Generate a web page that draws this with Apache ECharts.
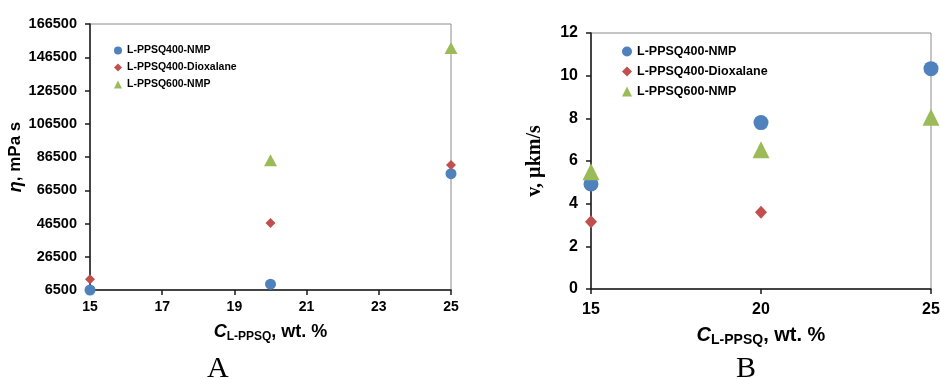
<!DOCTYPE html>
<html>
<head>
<meta charset="utf-8">
<script src="https://cdn.jsdelivr.net/npm/echarts@6/dist/echarts.min.js"></script>
<style>
html, body { margin: 0; padding: 0; background: #fff; }
#chart { width: 940px; height: 379px; }
</style>
</head>
<body>
<div id="chart"></div>
<script>
// Sample names and polymer concentrations (wt. %)
const seriesNames = ['L-PPSQ400-NMP', 'L-PPSQ400-Dioxalane', 'L-PPSQ600-NMP'];
const concentrations = [15, 20, 25];

// Panel A: dynamic viscosity, mPa s (null = not measured)
const viscNmp400 = [6500, 10000, 76500];
const viscDiox400 = [13000, 46800, 81700];
const viscNmp600 = [null, 84500, 152000];

// Panel B: v, µkm/s
const speedNmp400 = [4.92, 7.8, 10.33];
const speedDiox400 = [3.15, 3.6, null];
const speedNmp600 = [5.5, 6.53, 8.05];

// Tick values
const viscTicks = [6500, 26500, 46500, 66500, 86500, 106500, 126500, 146500, 166500];
const concTicksA = [15, 17, 19, 21, 23, 25];

const colors = ['#4F81BD', '#C0504D', '#9BBB59'];
const sans = 'Liberation Sans, Arial, sans-serif';
const serif = 'Liberation Serif, Times New Roman, serif';

function pairs(values) {
  const out = [];
  concentrations.forEach((c, i) => { if (values[i] != null) out.push([c, values[i]]); });
  return out;
}

const plain = v => String(v);
const axisLineStyle = { color: '#1a1a1a', width: 1.5 };

function scatter(idx, panel, symbol, size, values) {
  return {
    name: seriesNames[idx], type: 'scatter', xAxisIndex: panel, yAxisIndex: panel,
    symbol: symbol, symbolSize: size, clip: false, data: pairs(values),
    itemStyle: { color: colors[idx], opacity: 1 },
    emphasis: { disabled: true }
  };
}

const chart = echarts.init(document.getElementById('chart'), null, { renderer: 'canvas' });

chart.setOption({
  animation: false,
  backgroundColor: '#fff',
  color: colors,
  grid: [
    { left: 90, right: 489, top: 24, bottom: 89, show: true, borderColor: '#8c8c8c', borderWidth: 1, containLabel: false, outerBoundsMode: 'none' },
    { left: 591, right: 9, top: 33, bottom: 90, show: true, borderColor: '#8c8c8c', borderWidth: 1, containLabel: false, outerBoundsMode: 'none' }
  ],
  xAxis: [
    {
      gridIndex: 0, type: 'value', min: 15, max: 25,
      axisLine: { show: true, lineStyle: axisLineStyle },
      axisTick: { show: true, length: 5, lineStyle: axisLineStyle, customValues: concTicksA },
      axisLabel: { customValues: concTicksA, formatter: plain, margin: 10, color: '#000', fontFamily: sans, fontWeight: 'bold', fontSize: 14 },
      splitLine: { show: false },
      name: '{i|C}{sub|L-PPSQ}{n|, wt. %}',
      nameLocation: 'middle', nameGap: 32,
      nameTextStyle: {
        rich: {
          i: { fontFamily: sans, fontWeight: 'bold', fontStyle: 'italic', fontSize: 18, color: '#000' },
          sub: { fontFamily: sans, fontWeight: 'bold', fontSize: 12, color: '#000', padding: [9, 0, 0, 0] },
          n: { fontFamily: sans, fontWeight: 'bold', fontSize: 18, color: '#000' }
        }
      }
    },
    {
      gridIndex: 1, type: 'value', min: 15, max: 25, interval: 5,
      axisLine: { show: true, lineStyle: axisLineStyle },
      axisTick: { show: true, length: 5, lineStyle: axisLineStyle },
      axisLabel: { formatter: plain, margin: 13, color: '#000', fontFamily: sans, fontWeight: 'bold', fontSize: 16 },
      splitLine: { show: false },
      name: '{i|C}{sub|L-PPSQ}{n|, wt. %}',
      nameLocation: 'middle', nameGap: 34,
      nameTextStyle: {
        rich: {
          i: { fontFamily: sans, fontWeight: 'bold', fontStyle: 'italic', fontSize: 20, color: '#000' },
          sub: { fontFamily: sans, fontWeight: 'bold', fontSize: 14, color: '#000', padding: [10, 0, 0, 0] },
          n: { fontFamily: sans, fontWeight: 'bold', fontSize: 20, color: '#000' }
        }
      }
    }
  ],
  yAxis: [
    {
      gridIndex: 0, type: 'value', min: 6500, max: 166500,
      axisLine: { show: true, lineStyle: axisLineStyle },
      axisTick: { show: true, length: 5, lineStyle: axisLineStyle, customValues: viscTicks },
      axisLabel: { customValues: viscTicks, formatter: plain, margin: 13, color: '#000', fontFamily: sans, fontWeight: 'bold', fontSize: 14.5 },
      splitLine: { show: false },
      name: '{i|η}{n|, mPa s}',
      nameLocation: 'middle', nameGap: 60, nameRotate: 90,
      nameTextStyle: {
        rich: {
          i: { fontFamily: sans, fontWeight: 'bold', fontStyle: 'italic', fontSize: 18, color: '#000' },
          n: { fontFamily: sans, fontWeight: 'bold', fontSize: 17, color: '#000' }
        }
      }
    },
    {
      gridIndex: 1, type: 'value', min: 0, max: 12, interval: 2,
      axisLine: { show: true, lineStyle: axisLineStyle },
      axisTick: { show: true, length: 5, lineStyle: axisLineStyle },
      axisLabel: { formatter: plain, margin: 13, color: '#000', fontFamily: sans, fontWeight: 'bold', fontSize: 16 },
      splitLine: { show: false },
      name: 'v, µkm/s',
      nameLocation: 'middle', nameGap: 46, nameRotate: 90,
      nameTextStyle: { fontFamily: serif, fontWeight: 'bold', fontSize: 20, color: '#000' }
    }
  ],
  legend: [
    {
      orient: 'vertical', left: 109, top: 40, itemWidth: 8, itemHeight: 8, itemGap: 6,
      textStyle: { fontFamily: sans, fontWeight: 'bold', fontSize: 10.5, color: '#000' },
      data: seriesNames, selectedMode: false
    },
    {
      orient: 'vertical', left: 617, top: 40, itemWidth: 10, itemHeight: 10, itemGap: 7,
      textStyle: { fontFamily: sans, fontWeight: 'bold', fontSize: 12.5, color: '#000' },
      data: seriesNames, selectedMode: false
    }
  ],
  series: [
    scatter(0, 0, 'circle', 11, viscNmp400),
    scatter(1, 0, 'diamond', [10, 10], viscDiox400),
    scatter(2, 0, 'triangle', [13, 12], viscNmp600),
    scatter(0, 1, 'circle', 15, speedNmp400),
    scatter(1, 1, 'diamond', [12, 13], speedDiox400),
    scatter(2, 1, 'triangle', [17, 17], speedNmp600)
  ],
  graphic: [
    { type: 'text', left: 207, top: 354, style: { text: 'A', fontFamily: serif, fontSize: 30, fill: '#000' } },
    { type: 'text', left: 736, top: 354, style: { text: 'B', fontFamily: serif, fontSize: 30, fill: '#000' } }
  ]
});
</script>
</body>
</html>
